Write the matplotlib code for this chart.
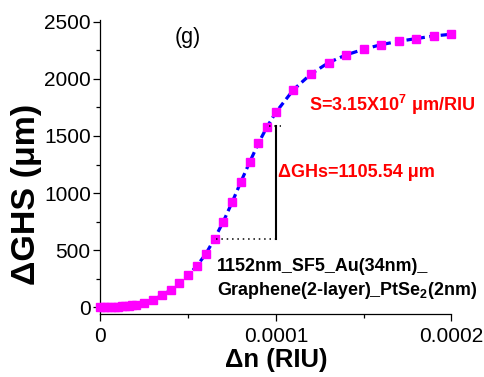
import matplotlib
matplotlib.use("Agg")
import matplotlib.pyplot as plt
from matplotlib.ticker import FixedLocator, FuncFormatter

plt.rcParams["font.family"] = ["Liberation Sans", "DejaVu Sans"]
plt.rcParams["mathtext.fontset"] = "custom"
plt.rcParams["mathtext.rm"] = "Liberation Sans:bold"
plt.rcParams["mathtext.bf"] = "Liberation Sans:bold"
plt.rcParams["mathtext.default"] = "rm"

# Δn (RIU) and ΔGHS (μm)
dn = [0, 2e-6, 4e-6, 6e-6, 8e-6, 1.0e-5, 1.2e-5, 1.4e-5, 1.6e-5, 1.8e-5,
      2.0e-5, 2.5e-5, 3.0e-5, 3.5e-5, 4.0e-5, 4.5e-5, 5.0e-5, 5.5e-5, 6.0e-5,
      6.5e-5, 7.0e-5, 7.5e-5, 8.0e-5, 8.5e-5, 9.0e-5, 9.5e-5, 1.0e-4,
      1.1e-4, 1.2e-4, 1.3e-4, 1.4e-4, 1.5e-4, 1.6e-4, 1.7e-4, 1.8e-4, 1.9e-4, 2.0e-4]
ghs = [0, 0.2, 0.6, 1.3, 2.3, 3.6, 5.3, 7.5, 10.5, 14.5,
       20, 38, 64, 102, 149, 208, 278, 363, 465,
       600, 749, 918, 1097, 1269, 1436, 1582, 1708,
       1906, 2044, 2143, 2211, 2260, 2301, 2330, 2354, 2377, 2392]

fig = plt.figure(figsize=(4.84, 3.77), dpi=100)
ax = fig.add_axes([0.2076, 0.167, 0.725, 0.780])

ax.plot(dn, ghs, color="#0000FF", lw=2.3, linestyle=(0, (2.2, 1.4)), zorder=2)
ax.plot(dn, ghs, linestyle="none", marker="s", ms=6.3, color="#FF00FF",
        mec="#FF00FF", zorder=3, clip_on=False)

# ΔGHs marker lines
ax.plot([1.0e-4, 1.0e-4], [593, 1585], color="black", lw=1.5, zorder=4)
ax.plot([6.6e-5, 1.0e-4], [593, 593], color="black", lw=1.1, linestyle=(0, (1, 2.5)), zorder=4)
ax.plot([9.6e-5, 1.03e-4], [1585, 1585], color="black", lw=1.1, linestyle=(0, (1, 2.5)), zorder=4)

ax.set_xlim(0, 2.0e-4)
ax.set_ylim(-61, 2517)
for side in ["top", "right"]:
    ax.spines[side].set_visible(False)
for side in ["left", "bottom"]:
    ax.spines[side].set_linewidth(0.9)

ax.xaxis.set_major_locator(FixedLocator([0, 1e-4, 2e-4]))
ax.xaxis.set_minor_locator(FixedLocator([5e-5, 1.5e-4]))
ax.xaxis.set_major_formatter(FuncFormatter(lambda v, p: "0" if v == 0 else f"{v:.4f}"))
ax.yaxis.set_major_locator(FixedLocator([0, 500, 1000, 1500, 2000, 2500]))
ax.yaxis.set_minor_locator(FixedLocator([250, 750, 1250, 1750, 2250]))
ax.tick_params(which="major", length=5, width=0.9, labelsize=15)
ax.tick_params(which="minor", length=3, width=0.9)
ax.tick_params(axis="x", which="major", pad=4)
ax.tick_params(axis="y", which="major", pad=2)

ax.set_xlabel("Δn (RIU)", fontsize=18.5, fontweight="bold")
ax.set_ylabel("ΔGHS (μm)", fontsize=24.5, fontweight="bold")
ax.xaxis.set_label_coords(0.5, -0.115)
ax.yaxis.set_label_coords(-0.167, 0.408)

ax.text(5.0e-5, 2360, "(g)", fontsize=15.5, ha="center", va="center")
ax.text(1.19e-4, 1720, "S=3.15X10$^{7}$ μm/RIU", fontsize=13, fontweight="bold",
        color="#FF0000", va="baseline")
ax.text(1.01e-4, 1140, "ΔGHs=1105.54 μm", fontsize=13, fontweight="bold",
        color="#FF0000", va="baseline")
ax.text(6.65e-5, 315, "1152nm_SF5_Au(34nm)_", fontsize=12.9, fontweight="bold", va="baseline")
ax.text(6.65e-5, 105, "Graphene(2-layer)_PtSe$_{2}$(2nm)", fontsize=12.9, fontweight="bold",
        va="baseline")

fig.savefig("out.png", dpi=100)
